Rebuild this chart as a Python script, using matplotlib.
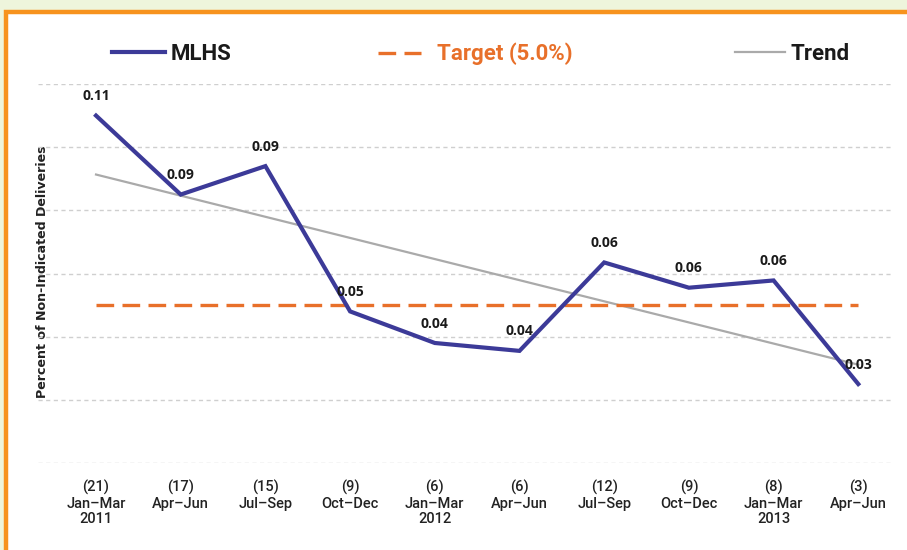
import matplotlib
matplotlib.use("Agg")
import matplotlib.pyplot as plt
import matplotlib.patches as mpatches
import numpy as np

# ---- data ----
counts = ["(21)", "(17)", "(15)", "(9)", "(6)", "(6)", "(12)", "(9)", "(8)", "(3)"]
quarters = ["Jan–Mar\n2011", "Apr–Jun", "Jul–Sep", "Oct–Dec", "Jan–Mar\n2012",
            "Apr–Jun", "Jul–Sep", "Oct–Dec", "Jan–Mar\n2013", "Apr–Jun"]
mlhs = [0.110, 0.085, 0.094, 0.048, 0.038, 0.0355, 0.0635, 0.0555, 0.0578, 0.025]
value_labels = ["0.11", "0.09", "0.09", "0.05", "0.04", "0.04", "0.06", "0.06", "0.06", "0.03"]
target = 0.05
y_grid = [0.0, 0.02, 0.04, 0.06, 0.08, 0.10, 0.12]

W, H = 907, 550
fig = plt.figure(figsize=(W / 100, H / 100), dpi=100)
fig.patch.set_facecolor("#eef5dc")

# white panel with orange border
panel = mpatches.Rectangle((6 / W, -0.1), 1.2, (1 - 12 / H) + 0.1,
                           transform=fig.transFigure, facecolor="white",
                           edgecolor="#f7931e", linewidth=3.2, zorder=-10)
fig.patches.append(panel)

ax = fig.add_axes([38 / W, 1 - 463 / H, (893 - 38) / W, (463 - 84) / H])
ax.set_zorder(5)
ax.set_facecolor("none")
for s in ax.spines.values():
    s.set_visible(False)

x = np.arange(len(mlhs))
ax.set_xlim(-0.685, 9.41)
ax.set_ylim(0, 0.12)

for g in y_grid:
    ax.axhline(g, color="#cfcfcf", lw=1.0, ls=(0, (3, 2.5)), zorder=1)

# trend (least-squares fit of the series)
coef = np.polyfit(x, mlhs, 1)
trend = np.polyval(coef, x)
l_trend, = ax.plot(x, trend, color="#aaaaaa", lw=1.6, zorder=2)
l_target, = ax.plot([x[0], x[-1]], [target, target], color="#e8702a", lw=2.4,
                    ls=(0, (5.3, 2.5)), zorder=3)
l_mlhs, = ax.plot(x, mlhs, color="#3c3a98", lw=3.0, zorder=4, solid_joinstyle="miter")

for xi, v, lab in zip(x, mlhs, value_labels):
    ax.annotate(lab, (xi, v), xytext=(0, 14), textcoords="offset points",
                ha="center", va="center", fontsize=10, fontweight="bold",
                color="#1a1a1a", family=["Open Sans", "DejaVu Sans"], zorder=5)

ax.set_yticks([])
ax.set_xticks(x)
ax.set_xticklabels([c + "\n" + q for c, q in zip(counts, quarters)],
                   family=["Roboto", "DejaVu Sans"], fontsize=10.5, fontweight="medium",
                   color="#222222", linespacing=1.15)
ax.tick_params(axis="x", length=0, pad=12)

fig.text(43 / W, 1 - 272 / H, "Percent of Non-Indicated Deliveries", rotation=90,
         ha="center", va="center", fontsize=9.1, fontweight="bold", color="#222222")

# legend entries placed across the top
leg_font = {"family": ["Roboto", "DejaVu Sans"], "size": 16, "weight": "bold"}
entries = [
    (l_mlhs, "MLHS", "#1a1a1a", 112 / W, 2.4, 0.25),
    (l_target, "Target (5.0%)", "#e8702a", 378 / W, 1.95, 0.7),
    (l_trend, "Trend", "#1a1a1a", 735 / W, 2.25, 0.25),
]
for handle, text, col, xpos, hl, pad in entries:
    leg = fig.legend([handle], [text], loc="center left",
                     bbox_to_anchor=(xpos, 1 - 54 / H), frameon=False,
                     prop=leg_font, handlelength=hl, handletextpad=pad,
                     borderpad=0, borderaxespad=0)
    for t in leg.get_texts():
        t.set_color(col)

fig.savefig("out.png", dpi=100, facecolor=fig.get_facecolor())
